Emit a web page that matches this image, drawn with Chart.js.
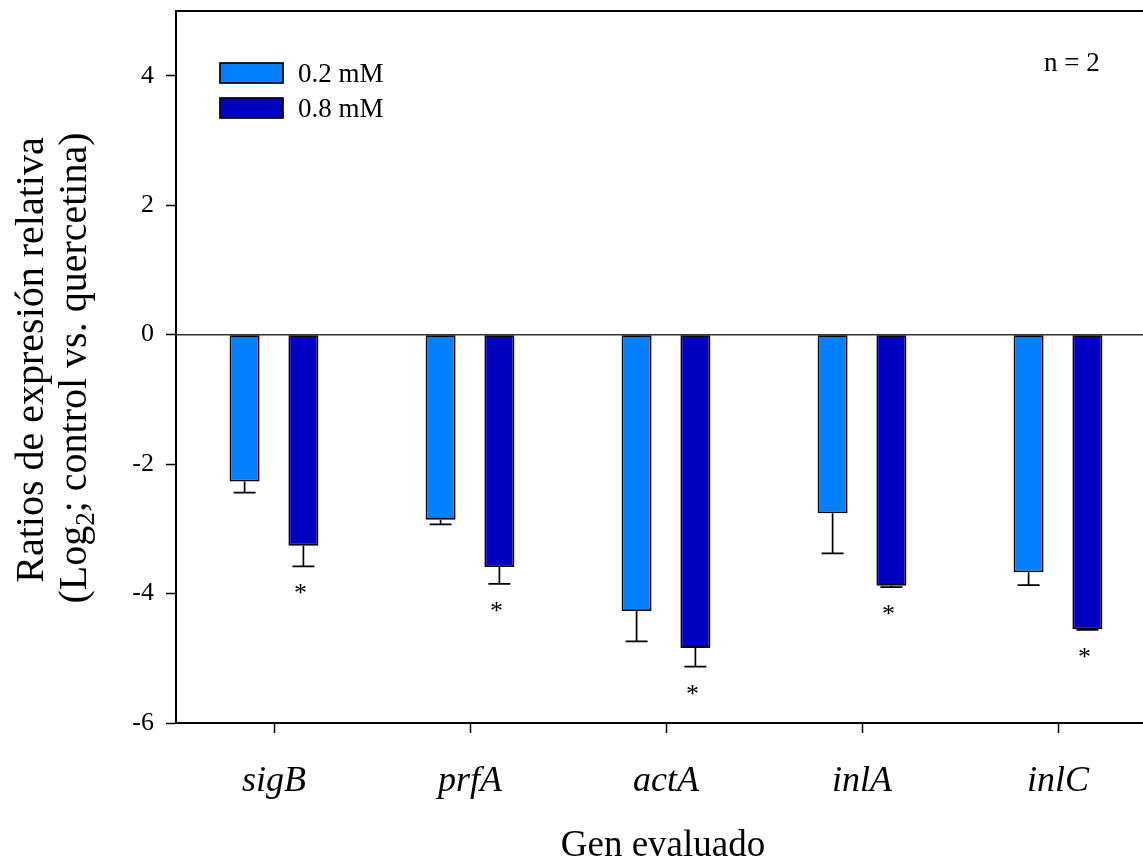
<!DOCTYPE html>
<html>
<head>
<meta charset="utf-8">
<script src="https://cdn.jsdelivr.net/npm/chart.js@4/dist/chart.umd.min.js"></script>
<style>
  html, body { margin: 0; padding: 0; background: #fff; overflow: hidden; width: 1143px; height: 867px; }
  canvas { display: block; }
</style>
</head>
<body>
<canvas id="c" width="1160" height="867"></canvas>
<script>
// ---- data ----
const genes = ['sigB', 'prfA', 'actA', 'inlA', 'inlC'];
const seriesLabels = ['0.2 mM', '0.8 mM'];
const values02 = [-2.27, -2.86, -4.27, -2.76, -3.67];
const values08 = [-3.26, -3.59, -4.84, -3.88, -4.55];
const errors02 = [0.17, 0.07, 0.47, 0.62, 0.20];
const errors08 = [0.32, 0.26, 0.29, 0.02, 0.01];
const signif02 = [false, false, false, false, false];
const signif08 = [true, true, true, true, true];
const yTicks = [-6, -4, -2, 0, 2, 4];
const yMin = -6, yMax = 5;
const noteText = 'n = 2';

const FONT = '"Liberation Serif", "Times New Roman", serif';
const colors = ['#0080FF', '#0000C0'];

const errs = [errors02, errors08];
const sigs = [signif02, signif08];

const overlay = {
  id: 'overlay',
  beforeDatasetsDraw(chart) {
    const {ctx, chartArea: a, scales: {y}} = chart;
    const y0 = y.getPixelForValue(0);
    ctx.save();
    ctx.strokeStyle = '#333';
    ctx.lineWidth = 1.5;
    ctx.beginPath();
    ctx.moveTo(a.left, y0); ctx.lineTo(a.right, y0);
    ctx.stroke();
    ctx.restore();
  },
  afterDatasetsDraw(chart) {
    const {ctx, scales: {y}} = chart;
    ctx.save();
    chart.data.datasets.forEach((ds, di) => {
      const meta = chart.getDatasetMeta(di);
      meta.data.forEach((bar, i) => {
        const v = ds.data[i];
        const e = errs[di][i];
        const yEnd = y.getPixelForValue(v - e);
        const yBar = y.getPixelForValue(v);
        ctx.strokeStyle = '#000';
        ctx.lineWidth = 1.7;
        ctx.beginPath();
        ctx.moveTo(bar.x, yBar); ctx.lineTo(bar.x, yEnd);
        ctx.moveTo(bar.x - 11, yEnd); ctx.lineTo(bar.x + 11, yEnd);
        ctx.stroke();
        if (sigs[di][i]) {
          ctx.fillStyle = '#000';
          ctx.font = '26px ' + FONT;
          ctx.textAlign = 'center';
          ctx.textBaseline = 'alphabetic';
          ctx.fillText('*', bar.x - 3, yEnd + 35);
        }
      });
    });
    ctx.restore();
  },
  afterDraw(chart) {
    const {ctx, chartArea: a} = chart;
    ctx.save();
    // top and right frame
    ctx.strokeStyle = '#000';
    ctx.lineWidth = 2;
    ctx.beginPath();
    ctx.moveTo(a.left, a.top); ctx.lineTo(a.right, a.top); ctx.lineTo(a.right, a.bottom);
    ctx.stroke();

    // legend
    const lx = 220, lw = 63, lh = 20;
    const ly = [63, 98];
    chart.data.datasets.forEach((ds, di) => {
      ctx.fillStyle = ds.backgroundColor;
      ctx.fillRect(lx, ly[di], lw, lh);
      ctx.strokeStyle = '#000';
      ctx.lineWidth = 1.7;
      ctx.strokeRect(lx, ly[di], lw, lh);
      ctx.fillStyle = '#000';
      ctx.font = '27px ' + FONT;
      ctx.textAlign = 'left';
      ctx.textBaseline = 'alphabetic';
      ctx.fillText(ds.label, 298, ly[di] + 19);
    });

    // n = 2
    ctx.font = '27px ' + FONT;
    ctx.textAlign = 'left';
    ctx.textBaseline = 'alphabetic';
    ctx.fillText(noteText, 1044, 71);

    // x title
    ctx.font = '37px ' + FONT;
    ctx.textAlign = 'center';
    ctx.fillText('Gen evaluado', 663, 856);

    // y title (two lines, rotated)
    const cy = 360;
    ctx.translate(0, cy);
    ctx.rotate(-Math.PI / 2);
    ctx.font = '40px ' + FONT;
    ctx.textAlign = 'center';
    ctx.fillText('Ratios de expresión relativa', 0, 43);
    // line 2 with subscript
    const p1 = '(Log', sub = '2', p2 = '; control vs. quercetina)';
    const bigF = '40px ' + FONT, smallF = '27px ' + FONT;
    ctx.font = bigF; const w1 = ctx.measureText(p1).width, w3 = ctx.measureText(p2).width;
    ctx.font = smallF; const w2 = ctx.measureText(sub).width;
    let x = -(w1 + w2 + w3) / 2 - 8;
    ctx.textAlign = 'left';
    ctx.font = bigF; ctx.fillText(p1, x, 86); x += w1;
    ctx.font = smallF; ctx.fillText(sub, x, 94); x += w2;
    ctx.font = bigF; ctx.fillText(p2, x, 86);
    ctx.restore();
  }
};

new Chart(document.getElementById('c'), {
  type: 'bar',
  data: {
    labels: genes,
    datasets: [
      { label: seriesLabels[0], data: values02, backgroundColor: colors[0], borderColor: '#000', borderWidth: 1.8, borderSkipped: false, categoryPercentage: 0.6, barPercentage: 0.51 },
      { label: seriesLabels[1], data: values08, backgroundColor: colors[1], borderColor: '#000', borderWidth: 1.8, borderSkipped: false, categoryPercentage: 0.6, barPercentage: 0.51 }
    ]
  },
  options: {
    responsive: false,
    animation: false,
    events: [],
    layout: { padding: { top: 11, right: 4, left: 0, bottom: 0 } },
    plugins: { legend: { display: false }, tooltip: { enabled: false } },
    scales: {
      x: {
        offset: true,
        grid: { offset: false, drawOnChartArea: false, drawTicks: true, tickLength: 10, tickColor: '#000', tickWidth: 1.5 },
        border: { color: '#000', width: 2 },
        ticks: { color: '#000', padding: 27, font: { family: FONT, size: 36, style: 'italic' }, maxRotation: 0 },
        afterFit(s) { s.height = 144; s.paddingLeft = 0; s.paddingRight = 0; }
      },
      y: {
        min: yMin, max: yMax,
        afterBuildTicks(s) { s.ticks = yTicks.map(v => ({ value: v })); },
        grid: { drawOnChartArea: false, drawTicks: true, tickLength: 10, tickColor: '#000', tickWidth: 1.5 },
        border: { color: '#000', width: 2 },
        ticks: { color: '#000', padding: 12, font: { family: FONT, size: 26 } },
        afterFit(s) { s.width = 176; s.paddingTop = 0; s.paddingBottom = 0; }
      }
    }
  },
  plugins: [overlay]
});
</script>
</body>
</html>
